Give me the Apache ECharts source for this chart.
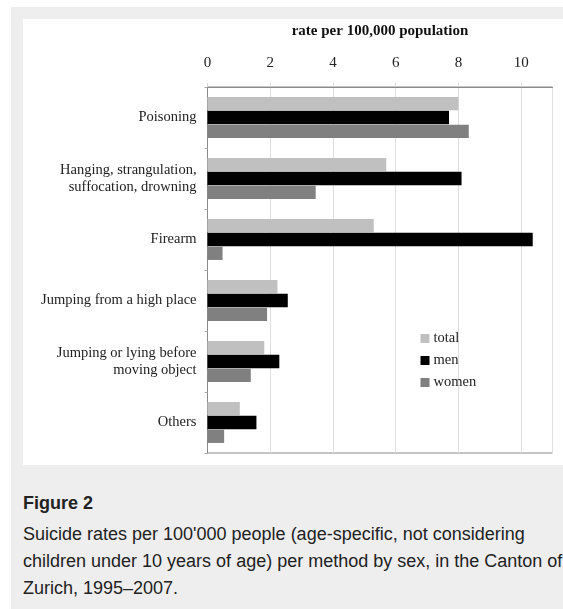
<!DOCTYPE html>
<html><head><meta charset="utf-8">
<script src="https://cdn.jsdelivr.net/npm/echarts@6/dist/echarts.min.js"></script>
<style>
html,body{margin:0;padding:0;background:#fff;width:563px;height:609px;overflow:hidden;}
#panel{position:absolute;left:11px;top:7px;width:560px;height:610px;background:#eeeeee;}
#chart{position:absolute;left:23px;top:19px;width:540px;height:446px;background:#fff;}
#figt{position:absolute;left:23px;top:492px;font:bold 18px "Liberation Sans",Arial,sans-serif;line-height:22px;color:#222;white-space:nowrap;}
#cap{position:absolute;left:23px;top:521px;font:18px "Liberation Sans",Arial,sans-serif;line-height:27px;color:#222;white-space:nowrap;}
</style></head>
<body>
<div id="panel"></div>
<div id="chart"></div>
<div id="figt">Figure 2</div>
<div id="cap">Suicide rates per 100'000 people (age-specific, not considering<br>children under 10 years of age) per method by sex, in the Canton of<br>Zurich, 1995–2007.</div>
<script>
const categories = ["Poisoning", "Hanging, strangulation,\nsuffocation, drowning", "Firearm", "Jumping from a high place", "Jumping or lying before\nmoving object", "Others"];
const totalValues = [8.0, 5.7, 5.3, 2.23, 1.81, 1.03];
const menValues = [7.7, 8.1, 10.37, 2.56, 2.29, 1.56];
const womenValues = [8.33, 3.45, 0.48, 1.9, 1.38, 0.53];
const seriesNames = ["total", "men", "women"];
const axisName = "rate per 100,000 population";

const serif = '"Liberation Serif","Times New Roman",serif';
const chart = echarts.init(document.getElementById('chart'));
chart.setOption({
  animation: false,
  backgroundColor: '#fff',
  grid: {left: 184.5, right: 10.5, top: 60, bottom: 12, show: true, borderColor: '#8a8a8a', borderWidth: 1, backgroundColor: 'transparent'},
  legend: {
    orient: 'vertical', left: 397.5, top: 312, padding: 0, itemWidth: 9, itemHeight: 9, itemGap: 7,
    icon: 'rect',
    textStyle: {fontFamily: serif, fontSize: 14.5, color: '#222', padding: [0,0,0,-1]},
    data: seriesNames
  },
  xAxis: {
    type: 'value', position: 'top', min: 0, max: 11, interval: 2,
    name: axisName, nameLocation: 'middle', nameGap: 48,
    nameTextStyle: {fontFamily: serif, fontSize: 15, fontWeight: 'bold', color: '#111'},
    axisLine: {show: true, lineStyle: {color: '#8a8a8a'}},
    axisTick: {show: true, length: 4, lineStyle: {color: '#d8d8d8'}},
    axisLabel: {fontFamily: serif, fontSize: 15, color: '#222', margin: 16, showMaxLabel: false},
    splitLine: {show: true, lineStyle: {color: '#dedede'}}
  },
  yAxis: {
    type: 'category', inverse: true, data: categories,
    axisLine: {show: true, lineStyle: {color: '#8a8a8a'}},
    axisTick: {show: true, length: 3, lineStyle: {color: '#aaa'}},
    axisLabel: {fontFamily: serif, fontSize: 14.5, color: '#222', margin: 11, lineHeight: 17, align: 'right'}
  },
  series: [
    {name: seriesNames[0], type: 'bar', data: totalValues, itemStyle: {color: '#c0c0c0'}, barCategoryGap: '33%', barGap: '4%'},
    {name: seriesNames[1], type: 'bar', data: menValues, itemStyle: {color: '#000'}, barGap: '4%'},
    {name: seriesNames[2], type: 'bar', data: womenValues, itemStyle: {color: '#808080'}, barGap: '4%'}
  ]
});
</script>
</body></html>
